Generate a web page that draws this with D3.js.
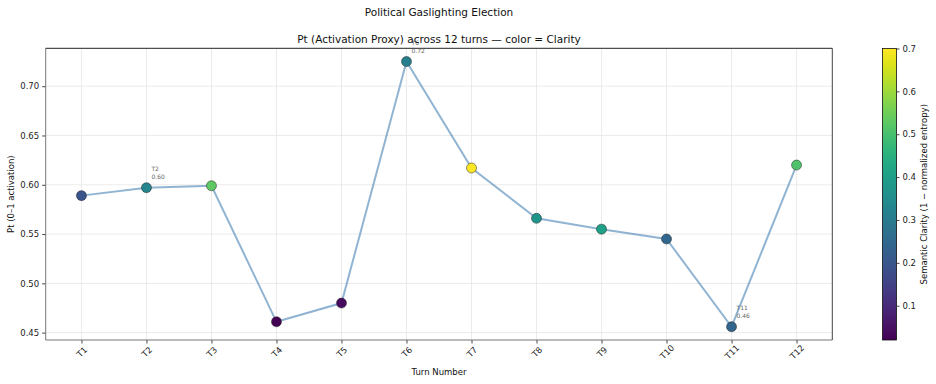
<!DOCTYPE html>
<html>
<head>
<meta charset="utf-8">
<script src="https://cdn.jsdelivr.net/npm/d3@7"></script>
<style>
  body { margin: 0; background: #fff; }
  svg { display: block; font-family: "DejaVu Sans", sans-serif; }
</style>
</head>
<body>
<svg id="chart" width="936" height="384"></svg>
<script>
const turns = ["T1","T2","T3","T4","T5","T6","T7","T8","T9","T10","T11","T12"];
const ptValues = [0.589, 0.597, 0.599, 0.461, 0.480, 0.725, 0.617, 0.566, 0.555, 0.545, 0.456, 0.620];
const clarity = [0.20, 0.33, 0.53, 0.02, 0.04, 0.31, 0.70, 0.375, 0.41, 0.245, 0.24, 0.51];
const yTicks = [0.45, 0.50, 0.55, 0.60, 0.65, 0.70];
const cbTicks = [0.1, 0.2, 0.3, 0.4, 0.5, 0.6, 0.7];
const annotated = ["T2", "T6", "T11"];

const svg = d3.select("#chart");
const L = 45.7, R = 832.3, T = 48.3, B = 340;

const x = d3.scaleLinear().domain([-0.55, 11.55]).range([L, R]);
const yMin = d3.min(ptValues), yMax = d3.max(ptValues), pad = (yMax - yMin) * 0.05;
const y = d3.scaleLinear().domain([yMin - pad, yMax + pad]).range([B, T]);
const cMin = d3.min(clarity), cMax = d3.max(clarity);
const color = d3.scaleSequential(d3.interpolateViridis).domain([cMin, cMax]);

// grid
const g = svg.append("g");
g.selectAll(".vg").data(turns).join("line")
  .attr("x1", (d, i) => x(i)).attr("x2", (d, i) => x(i))
  .attr("y1", T).attr("y2", B).attr("stroke", "#e6e6e6").attr("stroke-width", 0.8);
g.selectAll(".hg").data(yTicks).join("line")
  .attr("x1", L).attr("x2", R).attr("y1", d => y(d)).attr("y2", d => y(d))
  .attr("stroke", "#e6e6e6").attr("stroke-width", 0.8);

// axes via d3
const yAxis = d3.axisLeft(y).tickValues(yTicks).tickFormat(d3.format(".2f")).tickSize(3.5).tickPadding(3);
const ya = svg.append("g").attr("transform", `translate(${L},0)`).call(yAxis);
ya.select(".domain").remove();
ya.selectAll("text").attr("font-size", 8.5).attr("fill", "#222").attr("font-family", "DejaVu Sans");
ya.selectAll("line").attr("stroke", "#444");

const xAxis = d3.axisBottom(x).tickValues(d3.range(turns.length)).tickFormat(i => turns[i]).tickSize(3.5);
const xa = svg.append("g").attr("transform", `translate(0,${B})`).call(xAxis);
xa.select(".domain").remove();
xa.selectAll("line").attr("stroke", "#444");
xa.selectAll("text")
  .attr("font-size", 8.5).attr("fill", "#222").attr("font-family", "DejaVu Sans")
  .attr("text-anchor", "middle").attr("dy", null).attr("y", 0)
  .attr("dominant-baseline", "central")
  .attr("transform", "translate(0,12) rotate(-45)");

// spines
svg.append("line").attr("x1", L).attr("x2", L).attr("y1", T).attr("y2", B).attr("stroke", "#777").attr("stroke-width", 1);
svg.append("line").attr("x1", L).attr("x2", R).attr("y1", B).attr("y2", B).attr("stroke", "#777").attr("stroke-width", 1);
svg.append("line").attr("x1", R).attr("x2", R).attr("y1", T).attr("y2", B).attr("stroke", "#444").attr("stroke-width", 1);
svg.append("line").attr("x1", L).attr("x2", R).attr("y1", T).attr("y2", T).attr("stroke", "#222").attr("stroke-width", 1);

// line
const line = d3.line().x((d, i) => x(i)).y(d => y(d));
svg.append("path").datum(ptValues).attr("d", line)
  .attr("fill", "none").attr("stroke", "#4682b4").attr("stroke-opacity", 0.6).attr("stroke-width", 2);

// points
svg.selectAll(".pt").data(ptValues).join("circle")
  .attr("cx", (d, i) => x(i)).attr("cy", d => y(d)).attr("r", 5)
  .attr("fill", (d, i) => color(clarity[i]))
  .attr("stroke", "#222").attr("stroke-width", 0.5);

// annotations
turns.forEach((t, i) => {
  if (!annotated.includes(t)) return;
  const px = x(i) + 5, py = y(ptValues[i]);
  svg.append("text").attr("x", px).attr("y", py - 16.5).attr("font-size", 6).attr("fill", "#666").text(t);
  svg.append("text").attr("x", px).attr("y", py - 9).attr("font-size", 6).attr("fill", "#666").text(ptValues[i].toFixed(2));
});

// titles
svg.append("text").attr("x", 439).attr("y", 16).attr("text-anchor", "middle")
  .attr("font-size", 10.5).attr("fill", "#111").text("Political Gaslighting Election");
svg.append("text").attr("x", (L + R) / 2).attr("y", 43).attr("text-anchor", "middle")
  .attr("font-size", 10.5).attr("fill", "#111").text("Pt (Activation Proxy) across 12 turns — color = Clarity");
svg.append("text").attr("x", (L + R) / 2).attr("y", 375).attr("text-anchor", "middle")
  .attr("font-size", 8.5).attr("fill", "#111").text("Turn Number");
svg.append("text").attr("transform", `translate(14,${(T + B) / 2}) rotate(-90)`).attr("text-anchor", "middle")
  .attr("font-size", 8.5).attr("fill", "#111").text("Pt (0–1 activation)");

// colorbar
const cbL = 882.5, cbW = 14, cbT = 48.5, cbB = 340;
const cy = d3.scaleLinear().domain([cMin, cMax]).range([cbB, cbT]);
const defs = svg.append("defs");
const grad = defs.append("linearGradient").attr("id", "vir").attr("x1", 0).attr("y1", 1).attr("x2", 0).attr("y2", 0);
d3.range(0, 1.0001, 0.05).forEach(s => {
  grad.append("stop").attr("offset", s).attr("stop-color", d3.interpolateViridis(s));
});
svg.append("rect").attr("x", cbL).attr("y", cbT).attr("width", cbW).attr("height", cbB - cbT)
  .attr("fill", "url(#vir)").attr("stroke", "#111").attr("stroke-width", 0.8);
const cAxis = d3.axisRight(cy).tickValues(cbTicks).tickFormat(d3.format(".1f")).tickSize(3).tickPadding(3);
const ca = svg.append("g").attr("transform", `translate(${cbL + cbW},0)`).call(cAxis);
ca.select(".domain").remove();
ca.selectAll("line").attr("stroke", "#444");
ca.selectAll("text").attr("font-size", 8.5).attr("fill", "#222").attr("font-family", "DejaVu Sans");
svg.append("text").attr("transform", `translate(927,${(cbT + cbB) / 2}) rotate(-90)`).attr("text-anchor", "middle")
  .attr("font-size", 8.5).attr("fill", "#111").text("Semantic Clarity (1 − normalized entropy)");
</script>
</body>
</html>
